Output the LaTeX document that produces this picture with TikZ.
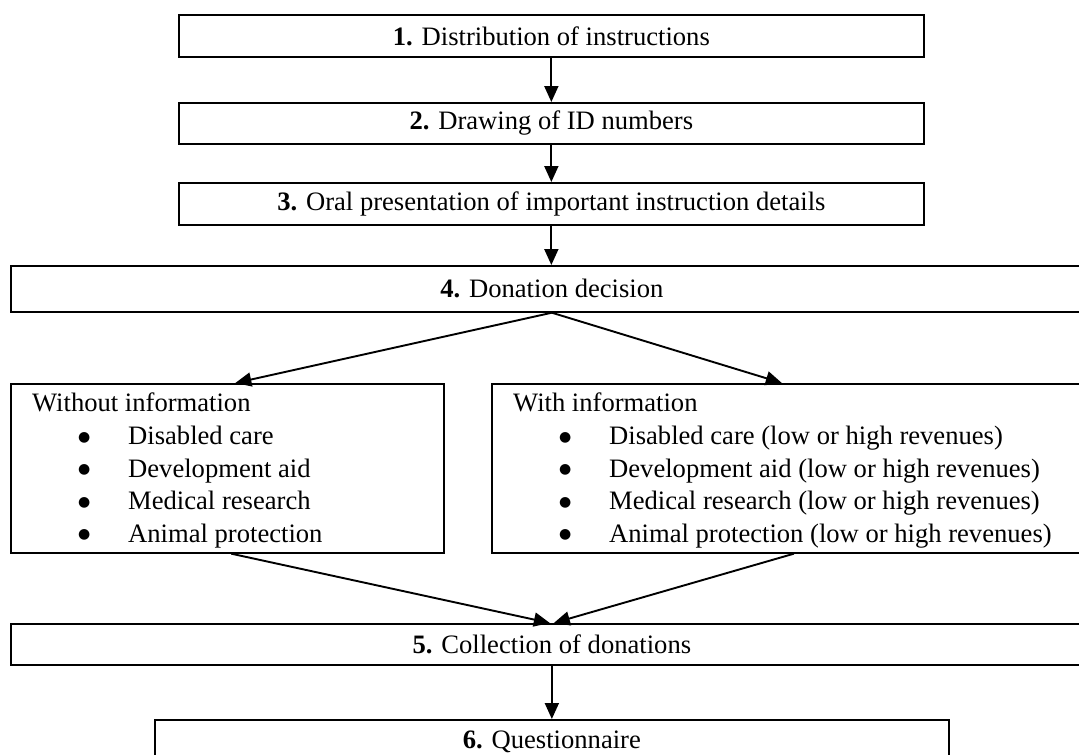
\documentclass[tikz,border=0pt]{standalone}
\usepackage{fontspec}
\setmainfont{Liberation Serif}
\newfontfamily\bulfont{DejaVu Sans}
\usetikzlibrary{arrows.meta}
\newcommand{\bigbul}{\raisebox{3.5pt}{\bulfont\fontsize{14}{14}\selectfont ●}}
\newcommand{\itm}[1]{\hspace*{46pt}\makebox[50pt][l]{\bigbul}#1}
\begin{document}
\begin{tikzpicture}[x=1pt,y=-1pt,
  box/.style={draw, line width=1.7pt, rectangle, inner sep=0pt, anchor=north west,
              font=\fontsize{26.6}{32.6}\selectfont},
  lbl/.style={font=\fontsize{26.6}{32.6}\selectfont, inner sep=0pt, align=left, anchor=north west},
  arr/.style={line width=1.9pt, -{Triangle[length=16pt,width=14pt]}}]
\useasboundingbox (0,0) rectangle (1079,755);

\node[box, minimum width=745pt, minimum height=42pt] (b1) at (178,14) {\textbf{1.} Distribution of instructions};
\node[box, minimum width=745pt, minimum height=41pt] (b2) at (178,102) {\textbf{2.} Drawing of ID numbers};
\node[box, minimum width=745pt, minimum height=42pt] (b3) at (178,182) {\textbf{3.} Oral presentation of important instruction details};
\node[box, minimum width=1082pt, minimum height=46pt] (b4) at (10,265) {\textbf{4.} Donation decision};

\node[box, minimum width=433pt, minimum height=169pt] (woi) at (10,383) {};
\node[box, minimum width=592pt, minimum height=169pt] (wi) at (491,383) {};

\node[lbl] (woit) at (32,393) {Without information\\
\itm{Disabled care}\\
\itm{Development aid}\\
\itm{Medical research}\\
\itm{Animal protection}};

\node[lbl] (wit) at (513,393) {With information\\
\itm{Disabled care (low or high revenues)}\\
\itm{Development aid (low or high revenues)}\\
\itm{Medical research (low or high revenues)}\\
\itm{Animal protection (low or high revenues)}};

\node[box, minimum width=1082pt, minimum height=41pt] (b5) at (10,623) {\textbf{5.} Collection of donations};
\node[box, minimum width=794pt, minimum height=44pt] (b6) at (154,719) {\textbf{6.} Questionnaire};

\draw[arr] (b1) -- (b2);
\draw[arr] (b2) -- (b3);
\draw[arr] (b3.south) -- (b3.south |- b4.north);
\draw[arr] (b4.south) -- ([xshift=8pt]woi.north);
\draw[arr] (b4.south) -- ([xshift=-6pt]wi.north);
\draw[arr] ([xshift=4pt]woi.south) -- ([xshift=-2pt]b5.north);
\draw[arr] ([xshift=6pt]wi.south) -- ([xshift=2pt]b5.north);
\draw[arr] (b5) -- (b6);
\end{tikzpicture}
\end{document}
